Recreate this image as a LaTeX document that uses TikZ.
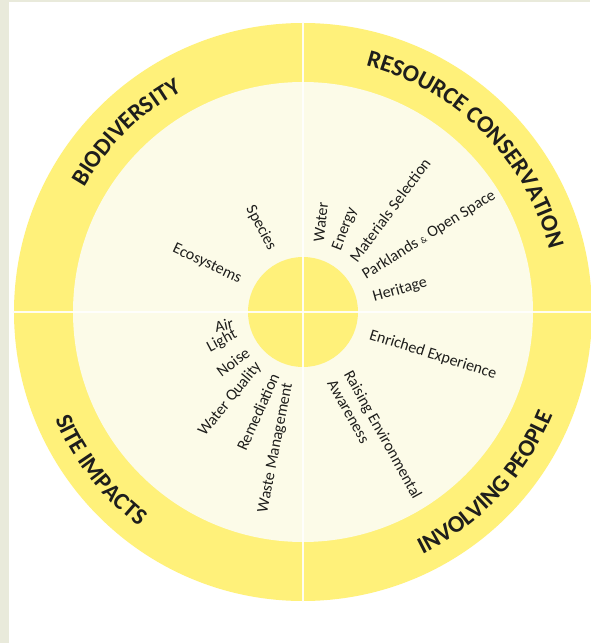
\documentclass[tikz,border=0pt]{standalone}
\usepackage{fontspec}
\setmainfont{Carlito}
\usetikzlibrary{decorations.text}
\definecolor{ringyellow}{RGB}{255,241,122}
\definecolor{cream}{RGB}{252,251,232}
\definecolor{stripgrey}{RGB}{233,234,219}
\definecolor{inktext}{RGB}{30,30,28}
\newcommand\catfont{\fontsize{24}{28}\selectfont\bfseries\color{inktext}}
\tikzset{
  lbl/.style={font=\fontsize{16}{19}\selectfont, text=inktext, inner sep=0pt},
  catarc/.style={decoration={text along path, text align=center, text={|\catfont|#1}}, decorate},
  divider/.style={white, line width=1.3pt, opacity=0.9},
}
\begin{document}
\begin{tikzpicture}[x=1pt,y=1pt]
\useasboundingbox (-303,-331) rectangle (287,312);
\fill[white] (-303,-331) rectangle (287,312);
\fill[stripgrey] (-303,-331) rectangle (-294,312);
\fill[stripgrey] (-303,310) rectangle (287,312);
% rings
\fill[ringyellow] (0,0) circle[radius=289];
\fill[cream] (0,0) circle[radius=230];
\node[circle, fill=ringyellow, minimum size=110pt, inner sep=0pt] (hub) at (0,0) {};
% dividers
\coordinate (dl) at (-289,0);
\coordinate (dr) at (289,0);
\coordinate (dt) at (0,289);
\coordinate (db) at (0,-289);
\draw[divider] (dl) -- (dr);
\draw[divider] (dt) -- (db);
% category titles
\path[catarc=BIODIVERSITY] (164.5:252) arc[start angle=164.5, end angle=104.5, radius=252];
\path[catarc=RESOURCE CONSERVATION] (80:254) arc[start angle=80, end angle=10, radius=254];
\path[catarc=SITE IMPACTS] (188:270) arc[start angle=188, end angle=248, radius=270];
\path[catarc=INVOLVING PEOPLE] (287:270) arc[start angle=287, end angle=347, radius=270];
% biodiversity
\node[lbl, rotate=-62] (species) at (-42,84) {Species};
\node[lbl, rotate=-25] (ecosys) at (-96,48) {Ecosystems};
% resource conservation
\node[lbl, rotate=84] (water) at (18,90) {Water};
\node[lbl, rotate=69] (energy) at (42,83) {Energy};
\node[lbl, rotate=53.5] (materials) at (87,102) {Materials Selection};
\node[lbl, rotate=32] (parklands) at (126,77) {Parklands {\fontsize{9}{9}\selectfont\&} Open Space};
\node[lbl, rotate=15.5] (heritage) at (97,22) {Heritage};
% involving people
\node[lbl, rotate=-17.5] (enriched) at (130,-43) {Enriched Experience};
\node[lbl, rotate=-61, align=left] (raising) at (72,-127) {Raising Environmental\\Awareness};
% site impacts
\node[lbl, rotate=12] (air) at (-79,-13) {Air};
\node[lbl, rotate=28] (light) at (-81,-29) {Light};
\node[lbl, rotate=37] (noise) at (-70,-50) {Noise};
\node[lbl, rotate=51] (wquality) at (-73,-87) {Water Quality};
\node[lbl, rotate=66] (remed) at (-45,-100) {Remediation};
\node[lbl, rotate=79] (waste) at (-27,-136) {Waste Management};
\end{tikzpicture}
\end{document}
